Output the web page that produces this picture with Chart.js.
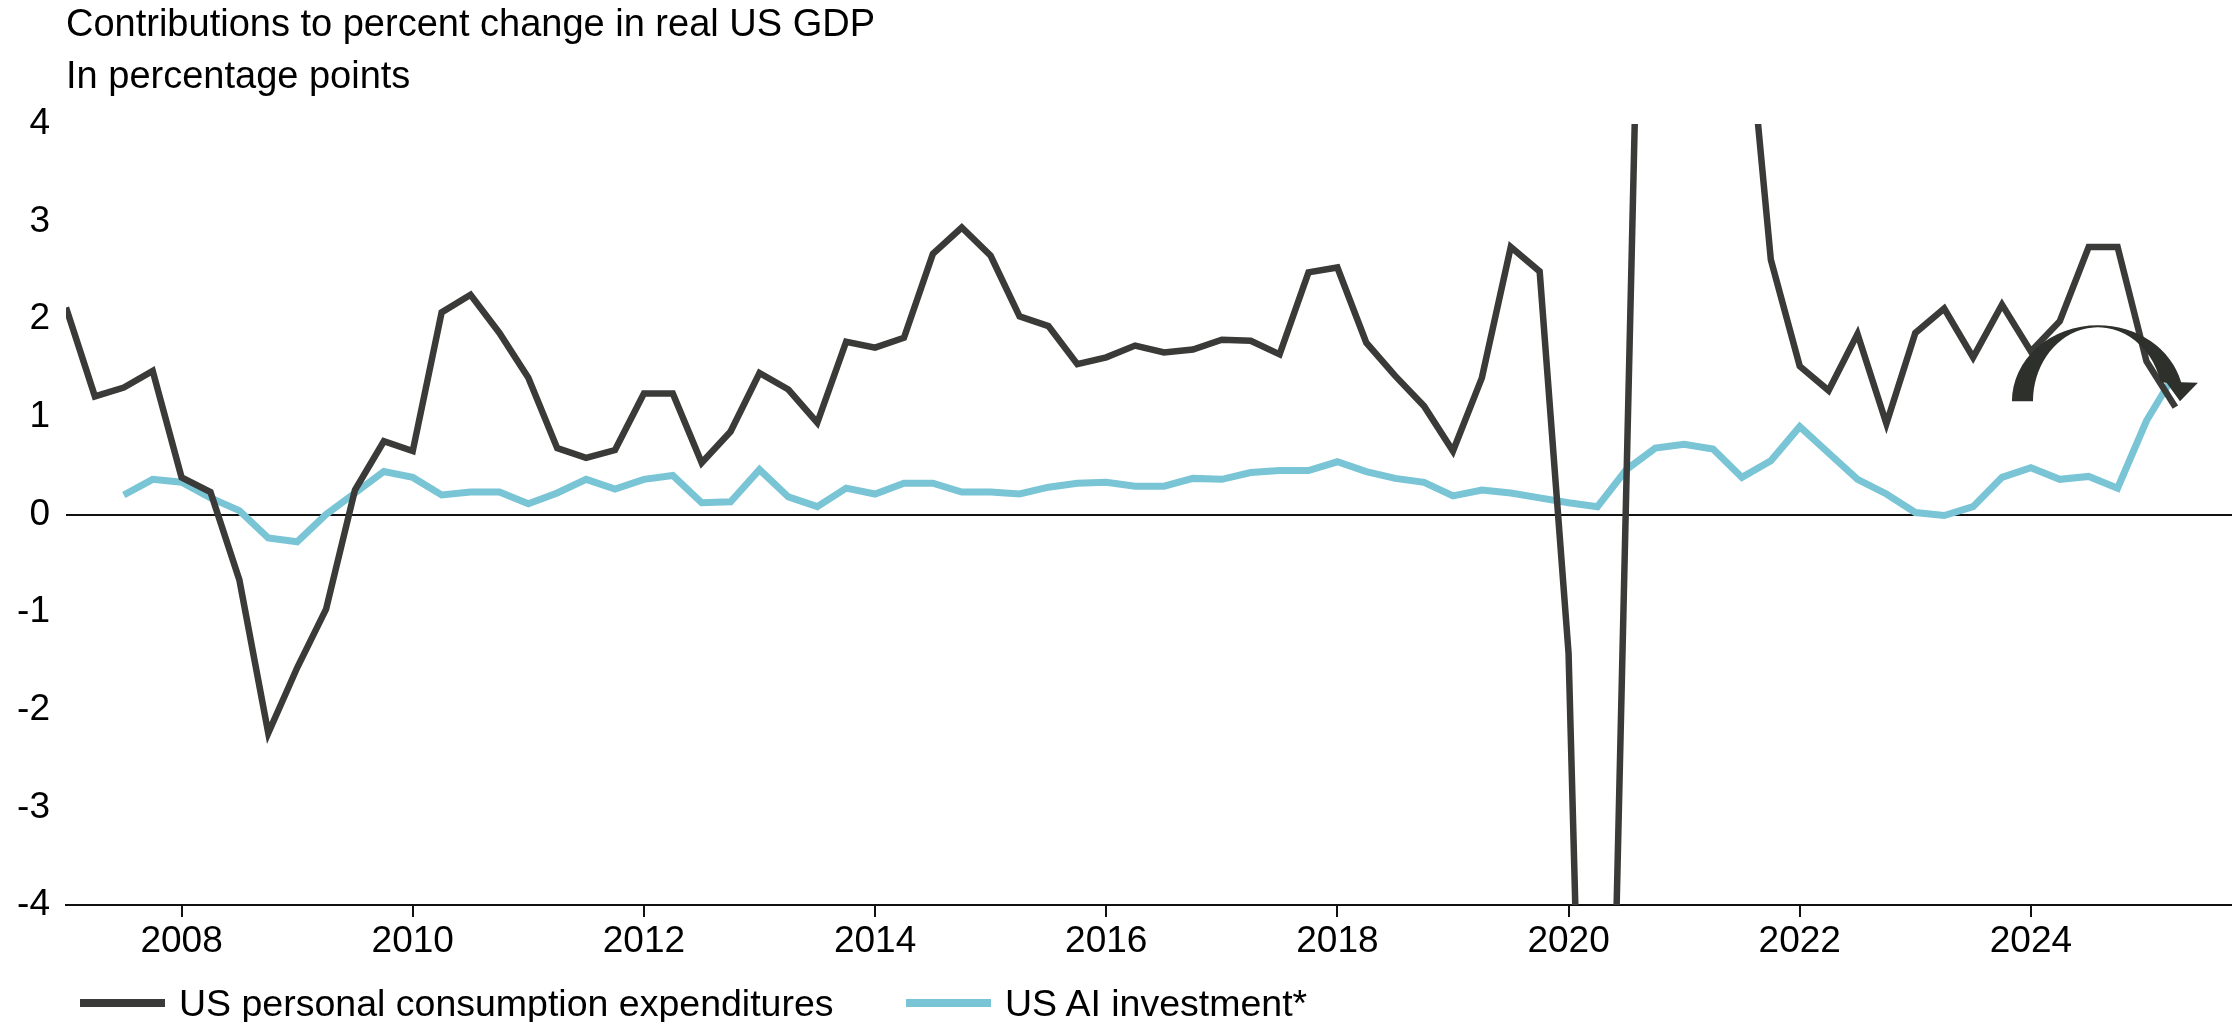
<!DOCTYPE html>
<html lang="en">

<head>
    <meta charset="UTF-8">
    <meta name="viewport" content="width=device-width, initial-scale=1.0">
    <title>Contributions to percent change in real US GDP</title>
    <script src="https://cdn.jsdelivr.net/npm/chart.js"></script>
    <style>
        body {
            margin: 0;
            background: #fff;
        }

        .wrap {
            position: relative;
            width: 2232px;
            height: 1022px;
            font-family: 'Liberation Sans', Arial, Helvetica, sans-serif;
        }

        .legendItem {
            position: absolute;
            top: 981px;
            height: 44px;
            line-height: 44px;
            display: flex;
            align-items: center;
            font-size: 37.5px;
            color: #000;
            white-space: nowrap;
        }

        .swatch {
            width: 85px;
            height: 8px;
            margin-right: 14px;
        }
    </style>
</head>

<body>
    <div class="wrap" id="wrap">
        <canvas id="gdpChart"></canvas>
    </div>
</body>

<script>
    // quarterly series, first value is 2007 Q1
    const firstYear = 2007;

    const seriesNames = ['US personal consumption expenditures', 'US AI investment*'];
    const seriesColors = ['#3a3b38', '#79c5d5'];

    // contribution of consumer spending, percentage points
    const pce = [
        2.12, 1.21, 1.30, 1.47,      // 2007
        0.38, 0.23, -0.67, -2.24,    // 2008
        -1.57, -0.97, 0.25, 0.75,    // 2009
        0.65, 2.07, 2.25, 1.86,      // 2010
        1.40, 0.68, 0.58, 0.66,      // 2011
        1.24, 1.24, 0.53, 0.85,      // 2012
        1.45, 1.28, 0.94, 1.77,      // 2013
        1.71, 1.81, 2.67, 2.94,      // 2014
        2.65, 2.03, 1.93, 1.54,      // 2015
        1.61, 1.73, 1.66, 1.69,      // 2016
        1.79, 1.78, 1.64, 2.48,      // 2017
        2.53, 1.76, 1.42, 1.11,      // 2018
        0.65, 1.40, 2.74, 2.49,      // 2019
        -1.42, -12.5, 0.30, 13.1,    // 2020
        6.5, 8.0, 5.75, 2.61,        // 2021
        1.52, 1.27, 1.85, 0.93,      // 2022
        1.86, 2.11, 1.61, 2.15,      // 2023
        1.67, 1.98, 2.74, 2.74,      // 2024
        1.57, 1.10                   // 2025
    ];

    // contribution of AI-related investment, starts 2007 Q3
    const aiInvestment = [
        null, null, 0.20, 0.36,      // 2007
        0.33, 0.17, 0.04, -0.24,     // 2008
        -0.28, 0.00, 0.22, 0.44,     // 2009
        0.38, 0.20, 0.23, 0.23,      // 2010
        0.11, 0.22, 0.36, 0.26,      // 2011
        0.36, 0.40, 0.12, 0.13,      // 2012
        0.46, 0.18, 0.08, 0.27,      // 2013
        0.21, 0.32, 0.32, 0.23,      // 2014
        0.23, 0.21, 0.28, 0.32,      // 2015
        0.33, 0.29, 0.29, 0.37,      // 2016
        0.36, 0.43, 0.45, 0.45,      // 2017
        0.54, 0.44, 0.37, 0.33,      // 2018
        0.19, 0.25, 0.22, 0.17,      // 2019
        0.12, 0.08, 0.46, 0.68,      // 2020
        0.72, 0.67, 0.38, 0.55,      // 2021
        0.90, 0.63, 0.36, 0.21,      // 2022
        0.02, -0.01, 0.08, 0.38,     // 2023
        0.48, 0.36, 0.39, 0.27,      // 2024
        0.96, 1.45                   // 2025
    ];

    const yearTicks = [2008, 2010, 2012, 2014, 2016, 2018, 2020, 2022, 2024];
    const valueTicks = [4, 3, 2, 1, 0, -1, -2, -3, -4];

    const quarters = pce.map((v, i) => firstYear + i / 4);

    // curved arrow drawn over the latest quarters (x in years, y in points)
    const arrowShape = {
        centre: [2024.58, 1.16],
        outer: [0.744, 0.779],
        inner: [0.562, 0.758],
        lift: 0.195,
        head: [[2025.445, 1.35], [2025.29, 1.16], [2025.174, 1.35]]
    };

    const turnArrow = {
        id: 'turnArrow',
        afterDatasetsDraw(chart) {
            const { ctx, scales: { x, y } } = chart;
            const xu = x.getPixelForValue(firstYear + 1) - x.getPixelForValue(firstYear);
            const yu = y.getPixelForValue(0) - y.getPixelForValue(1);
            const cx = x.getPixelForValue(arrowShape.centre[0]);
            const cy = y.getPixelForValue(arrowShape.centre[1]);
            const orx = arrowShape.outer[0] * xu, ory = arrowShape.outer[1] * yu;
            const irx = arrowShape.inner[0] * xu, iry = arrowShape.inner[1] * yu;
            const lift = arrowShape.lift * yu;
            const oEnd = Math.asin(lift / ory);
            const iEnd = Math.asin(lift / iry);

            ctx.save();
            ctx.fillStyle = '#2e302c';
            ctx.beginPath();
            ctx.ellipse(cx, cy, orx, ory, 0, Math.PI, 2 * Math.PI - oEnd);
            arrowShape.head.forEach(p => ctx.lineTo(x.getPixelForValue(p[0]), y.getPixelForValue(p[1])));
            ctx.ellipse(cx, cy, irx, iry, 0, 2 * Math.PI - iEnd, Math.PI, true);
            ctx.closePath();
            ctx.fill();
            ctx.restore();
        }
    };

    // legend under the chart
    const wrap = document.getElementById('wrap');
    [80, 906].forEach((left, i) => {
        const item = document.createElement('div');
        item.className = 'legendItem';
        item.style.left = left + 'px';
        item.innerHTML = `<span class="swatch" style="background:${seriesColors[i]}"></span>${seriesNames[i]}`;
        wrap.appendChild(item);
    });

    Chart.defaults.font.family = "'Liberation Sans', Arial, Helvetica, sans-serif";
    Chart.defaults.color = '#000';

    new Chart(document.getElementById('gdpChart'), {
        type: 'line',
        data: {
            datasets: [{
                label: seriesNames[0],
                data: quarters.map((q, i) => ({ x: q, y: pce[i] })),
                borderColor: seriesColors[0],
                borderWidth: 6.5,
                borderJoinStyle: 'miter',
                pointRadius: 0,
                tension: 0
            }, {
                label: seriesNames[1],
                data: quarters.map((q, i) => ({ x: q, y: aiInvestment[i] })),
                borderColor: seriesColors[1],
                borderWidth: 7,
                borderJoinStyle: 'miter',
                pointRadius: 0,
                tension: 0
            }]
        },
        options: {
            responsive: true,
            maintainAspectRatio: false,
            animation: false,
            layout: {
                padding: { left: 0, right: 0, top: 0, bottom: 57 }
            },
            plugins: {
                legend: { display: false },
                tooltip: { enabled: false },
                title: {
                    display: true,
                    text: ['Contributions to percent change in real US GDP', 'In percentage points'],
                    align: 'start',
                    fullSize: false,
                    color: '#000',
                    font: { size: 38, weight: 'normal', lineHeight: 52 / 38 },
                    padding: { top: 0, bottom: 20 }
                }
            },
            scales: {
                x: {
                    type: 'linear',
                    min: 2007,
                    max: 2025.74,
                    afterBuildTicks: scale => { scale.ticks = yearTicks.map(v => ({ value: v })); },
                    afterFit: scale => { scale.height = 60; },
                    grid: {
                        drawOnChartArea: false,
                        drawTicks: true,
                        tickLength: 12,
                        color: '#111',
                        lineWidth: 2
                    },
                    border: { display: true, color: '#111', width: 2 },
                    ticks: {
                        color: '#000',
                        font: { size: 37 },
                        padding: 3,
                        maxRotation: 0,
                        autoSkip: false,
                        callback: v => String(v)
                    }
                },
                y: {
                    min: -4,
                    max: 4,
                    afterBuildTicks: scale => { scale.ticks = valueTicks.map(v => ({ value: v })); },
                    afterFit: scale => { scale.width = 66; },
                    grid: {
                        drawTicks: false,
                        color: ctx => ctx.tick && ctx.tick.value === 0 ? '#111' : 'rgba(0,0,0,0)',
                        lineWidth: 2
                    },
                    border: { display: false },
                    ticks: {
                        color: '#000',
                        font: { size: 37 },
                        padding: 16,
                        callback: v => String(v)
                    }
                }
            }
        },
        plugins: [turnArrow]
    });
</script>

</html>
